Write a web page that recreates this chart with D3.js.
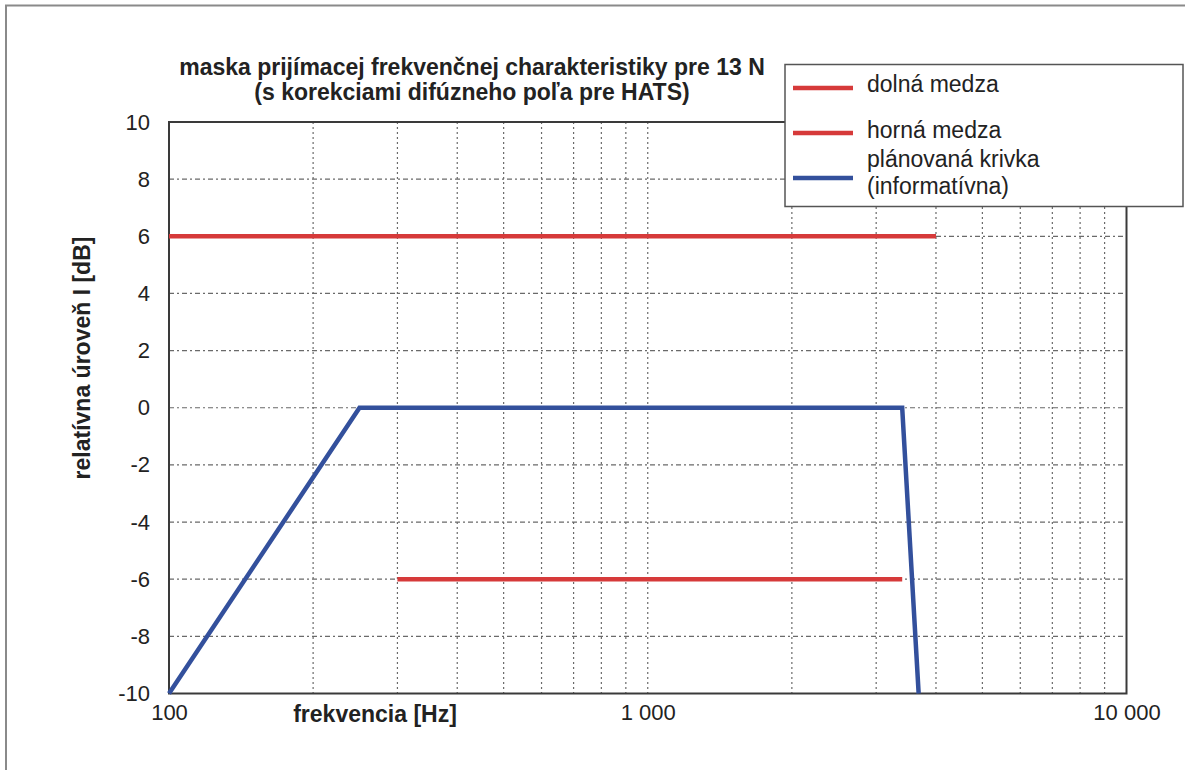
<!DOCTYPE html>
<html><head><meta charset="utf-8">
<script src="https://cdn.jsdelivr.net/npm/d3@7"></script>
<style>
body{margin:0;background:#fff;}
svg{display:block;font-family:"Liberation Sans",Arial,sans-serif;}
</style></head>
<body>
<svg id="c" width="1185" height="770"></svg>
<script>
const titleLines = ["maska prijímacej frekvenčnej charakteristiky pre 13 N", "(s korekciami difúzneho poľa pre HATS)"];
const xLabel = "frekvencia [Hz]";
const yLabel = "relatívna úroveň I [dB]";
const xTickValues = [100, 1000, 10000];
const xTickLabels = ["100", "1 000", "10 000"];
const yTickValues = [-10, -8, -6, -4, -2, 0, 2, 4, 6, 8, 10];
const lowerFreq = [300, 3400];
const lowerLevel = [-6, -6];
const upperFreq = [100, 4000];
const upperLevel = [6, 6];
const plannedFreq = [100, 250, 3400, 3680];
const plannedLevel = [-10, 0, 0, -10];
const legendLabels = [["dolná medza"], ["horná medza"], ["plánovaná krivka", "(informatívna)"]];

const RED = "#d63a3a", BLUE = "#33509c";
const FONT = "Liberation Sans, Arial, sans-serif";
const svg = d3.select("#c");
const L = 169, R = 1126.5, T = 122, B = 693.5;
const x = d3.scaleLog().domain([100, 10000]).range([L, R]);
const y = d3.scaleLinear().domain([-10, 10]).range([B, T]);

// outer frame
svg.append("rect").attr("x", 6).attr("y", 5.5).attr("width", 1200).attr("height", 800)
  .attr("fill", "none").attr("stroke", "#8a8a8a").attr("stroke-width", 2);

// grid
const minor = [];
for (let d = 100; d < 10000; d *= 10) for (let k = 1; k <= 9; k++) if (d * k > 100) minor.push(d * k);
svg.append("g").selectAll("line").data(minor).join("line")
  .attr("x1", d => x(d)).attr("x2", d => x(d)).attr("y1", T).attr("y2", B)
  .attr("stroke", "#6a6a6a").attr("stroke-width", 1.2).attr("stroke-dasharray", "2,3");
svg.append("g").selectAll("line").data(yTickValues.filter(v => v > -10 && v < 10)).join("line")
  .attr("x1", L).attr("x2", R).attr("y1", d => y(d)).attr("y2", d => y(d))
  .attr("stroke", "#6a6a6a").attr("stroke-width", 1.2).attr("stroke-dasharray", "5,3,2,3");

// axes
const yAxis = d3.axisLeft(y).tickValues(yTickValues).tickSize(0).tickPadding(19)
  .tickFormat(d => String(d));
const gy = svg.append("g").attr("transform", `translate(${L},0)`).call(yAxis);
gy.select(".domain").remove();
gy.selectAll("text").attr("font-size", 22).attr("fill", "#222").attr("font-family", FONT);

const xAxis = d3.axisBottom(x).tickValues(xTickValues).tickSize(0).tickPadding(11)
  .tickFormat((d, i) => xTickLabels[i]);
const gx = svg.append("g").attr("transform", `translate(0,${B})`).call(xAxis);
gx.select(".domain").remove();
gx.selectAll("text").attr("font-size", 22).attr("fill", "#222").attr("font-family", FONT);

// plot frame
svg.append("rect").attr("x", L).attr("y", T).attr("width", R - L).attr("height", B - T)
  .attr("fill", "none").attr("stroke", "#3a3a3a").attr("stroke-width", 2);

// series
const line = d3.line().x(d => x(d[0])).y(d => y(d[1]));
svg.append("path").datum(d3.zip(upperFreq, upperLevel)).attr("d", line)
  .attr("fill", "none").attr("stroke", RED).attr("stroke-width", 4.5);
svg.append("path").datum(d3.zip(lowerFreq, lowerLevel)).attr("d", line)
  .attr("fill", "none").attr("stroke", RED).attr("stroke-width", 4.5);
svg.append("path").datum(d3.zip(plannedFreq, plannedLevel)).attr("d", line)
  .attr("fill", "none").attr("stroke", BLUE).attr("stroke-width", 4.5).attr("stroke-linejoin", "miter");

// title
svg.append("text").attr("x", 470).attr("y", 75).attr("text-anchor", "middle")
  .attr("font-weight", "bold").attr("font-size", 23).attr("fill", "#222")
  .selectAll("tspan").data(titleLines).join("tspan")
  .attr("x", 472).attr("dy", (d, i) => i === 0 ? 0 : 25).text(d => d);

// axis labels
svg.append("text").attr("x", 375).attr("y", 722).attr("text-anchor", "middle")
  .attr("font-weight", "bold").attr("font-size", 23).attr("fill", "#222").text(xLabel);
svg.append("text").attr("transform", "translate(90,358) rotate(-90)").attr("text-anchor", "middle")
  .attr("font-weight", "bold").attr("font-size", 23).attr("fill", "#222").text(yLabel);

// legend
const lg = svg.append("g");
lg.append("rect").attr("x", 785).attr("y", 64.5).attr("width", 398).attr("height", 142)
  .attr("fill", "#fff").attr("stroke", "#555").attr("stroke-width", 1.5);
const legendColors = [RED, RED, BLUE];
const legendLineY = [88, 133, 178];
const legendTextY = [92, 138, 167];
legendLabels.forEach((lab, i) => {
  lg.append("line").attr("x1", 793).attr("x2", 853).attr("y1", legendLineY[i]).attr("y2", legendLineY[i])
    .attr("stroke", legendColors[i]).attr("stroke-width", 4.5);
  lg.append("text").attr("x", 867).attr("y", legendTextY[i]).attr("font-size", 23).attr("fill", "#222")
    .selectAll("tspan").data(lab).join("tspan").attr("x", 867).attr("dy", (d, j) => j === 0 ? 0 : 27).text(d => d);
});
</script>
</body></html>
